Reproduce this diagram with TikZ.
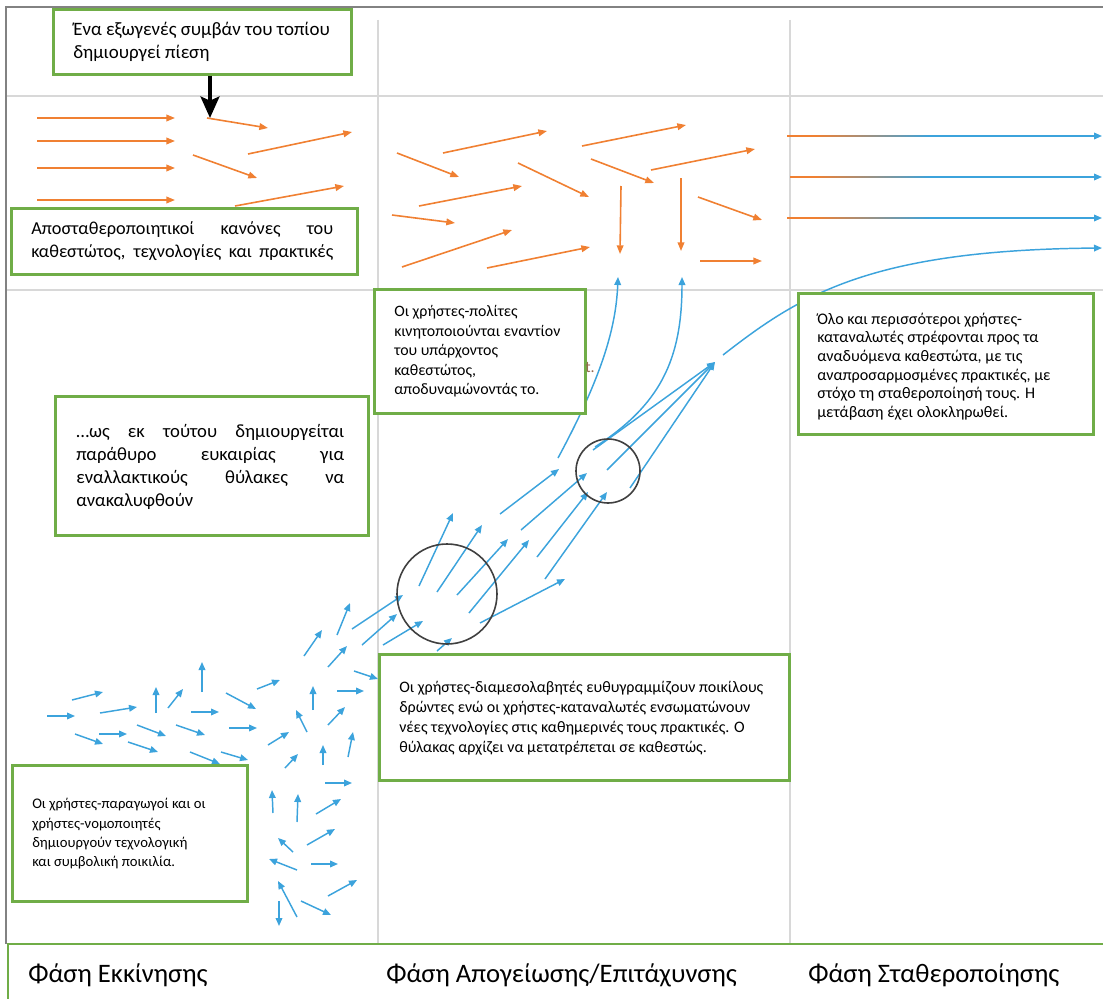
\documentclass[tikz,border=0pt]{standalone}
\usepackage{fontspec}
\setmainfont{Carlito}
\usetikzlibrary{arrows.meta}
\definecolor{gr}{RGB}{112,173,71}
\definecolor{orc}{RGB}{240,128,50}
\definecolor{blc}{RGB}{60,163,220}
\definecolor{gridc}{RGB}{216,216,216}
\definecolor{framec}{RGB}{130,130,130}
\definecolor{circc}{RGB}{64,64,64}
\definecolor{tcol}{RGB}{150,105,80}
\newcommand\jline[2]{\makebox[#1][s]{#2}}
\begin{document}
\begin{tikzpicture}[x=0.75pt,y=-0.75pt,
 oarr/.style={draw=orc, line width=1.2pt, -{Triangle[length=6.5pt,width=5pt]}},
 barr/.style={draw=blc, line width=1.1pt, -{Triangle[length=6pt,width=5pt]}},
 gbox/.style={draw=gr, line width=2pt, fill=white, anchor=north west, inner sep=0pt},
 txt/.style={anchor=west, align=left, inner sep=0pt, text=black},
 gridline/.style={draw=gridc, line width=1.2pt},
 lbl/.style={anchor=west, inner sep=0pt, font=\fontsize{20}{24}\selectfont}]
\useasboundingbox (0,0) rectangle (1103,999);
% grid
\draw[gridline] (6,96) -- (1103,96);
\draw[gridline] (6,290) -- (1103,290);
\draw[gridline] (378,20) -- (378,944);
\draw[gridline] (790,20) -- (790,944);
% frame
\draw[framec, line width=2pt] (1103,7) -- (6,7) -- (6,944);
% bottom band
\draw[gr, line width=2.2pt] (1103,944) -- (8,944) -- (8,999);
% orange arrows
\foreach \a/\b/\c/\d in {37/118/175/118, 37/141/175/141, 37/168/175/168, 37/200/175/200,
  207/118/268/128, 193/155/257/178, 248/154/352/132, 235/206/344/186,
  397/153/459/177, 443/153/547/131, 419/206/522/186, 392/215/455/223, 402/267/512/230,
  487/268/590/247, 518/163/589/197, 582/146/686/125, 591/159/654/183, 651/170/755/149,
  621/186/620/254, 681/178/681/251, 698/197/762/220, 700/261/762/261}
  \draw[oarr] (\a,\b) -- (\c,\d);
% gradient arrows
\foreach \y/\s in {136/787, 177/790, 218/787}{
  \fill[orc] (\s,\y-0.8) rectangle (815,\y+0.8);
  \shade[left color=orc, right color=blc] (815,\y-0.8) rectangle (930,\y+0.8);
  \draw[barr] (930,\y) -- (1102,\y);
}
% blue arrows
\foreach \a/\b/\c/\d in {47/716/75/716, 72/700/103/692, 75/734/103/744, 100/713/137/707,
  99/734/127/734, 128/742/158/752, 137/725/166/736, 156/713/156/687, 168/708/183/689,
  202/692/202/662, 191/712/219/712, 176/725/205/735, 190/752/220/764, 221/752/248/760,
  226/693/256/709, 229/728/257/728, 257/689/280/680, 268/745/289/732, 285/768/298/754,
  304/656/322/630, 337/635/350/603, 328/667/347/646, 313/710/313/686, 307/732/296/710,
  337/691/364/691, 328/725/345/707, 323/765/323/745, 348/757/353/732, 325/783/352/783,
  316/814/341/799, 273/813/272/790, 297/822/298/794, 293/852/278/838, 307/845/335/829,
  297/870/269/859, 311/864/338/864, 297/917/278/881, 279/901/279/926, 301/901/331/915,
  328/896/357/880, 352/629/403/595, 362/645/397/614, 383/645/423/621, 437/651/452/638,
  354/671/378/679, 419/586/453/513, 437/592/482/525, 457/595/508/539, 469/613/529/540,
  480/623/565/579, 500/514/559/469, 521/530/587/473, 537/557/588/492, 545/579/607/492,
  593/450/715/362, 607/470/715/362, 630/488/715/362}
  \draw[barr] (\a,\b) -- (\c,\d);
\draw[barr] (558,458) .. controls (600,380) and (616,330) .. (618,277);
\draw[barr] (595,447) .. controls (660,405) and (682,360) .. (682,277);
\draw[barr] (723,355) .. controls (800,295) and (870,250) .. (1102,248);
% circles
\draw[circc, line width=1.2pt] (447,594) circle[radius=50];
\draw[circc, line width=1.2pt] (608,471) circle[radius=32];
% boxes
\node[gbox, minimum width=223.5pt, minimum height=48.75pt] (b1) at (52,8) {};
\node[txt, font=\fontsize{14.2}{17.25}\selectfont] (t1) at (73,42) {Ένα εξωγενές συμβάν του τοπίου\\δημιουργεί πίεση};
\coordinate (pt) at (210,118);
\draw[black, line width=3.2pt, -{Stealth[length=16pt,width=14pt,inset=3pt]}] (b1.south -| pt) -- (pt);
\node[gbox, minimum width=259.5pt, minimum height=49.5pt] (b2) at (10,207) {};
\node[txt, font=\fontsize{13.7}{17.25}\selectfont] (t2) at (31,241.5) {\jline{226.5pt}{Αποσταθεροποιητικοί κανόνες του}\\\jline{226.5pt}{καθεστώτος, τεχνολογίες και πρακτικές}};
\node[gbox, minimum width=158.25pt, minimum height=93pt] (b3) at (373,288) {};
\node[txt, font=\fontsize{11.9}{14.6}\selectfont] (t3) at (394,351.5) {Οι χρήστες-πολίτες\\κινητοποιούνται εναντίον\\του υπάρχοντος\\καθεστώτος,\\αποδυναμώνοντάς το.};
\node[anchor=west, inner sep=0pt, text=tcol, font=\fontsize{12}{14}\selectfont] (tt) at (585,368) {t.};
\node[gbox, minimum width=221.25pt, minimum height=105.75pt] (b4) at (797,292) {};
\node[txt, font=\fontsize{12.1}{14}\selectfont] (t4) at (817,366.5) {Όλο και περισσότεροι χρήστες-\\καταναλωτές στρέφονται προς τα\\αναδυόμενα καθεστώτα, με τις\\αναπροσαρμοσμένες πρακτικές, με\\στόχο τη σταθεροποίησή τους. Η\\μετάβαση έχει ολοκληρωθεί.};
\node[gbox, minimum width=234.75pt, minimum height=104.25pt] (b5) at (54,395) {};
\node[txt, font=\fontsize{14}{17.25}\selectfont] (t5) at (76,467) {\jline{201pt}{…ως εκ τούτου δημιουργείται}\\\jline{201pt}{παράθυρο ευκαιρίας για}\\\jline{201pt}{εναλλακτικούς θύλακες να}\\ανακαλυφθούν};
\node[gbox, minimum width=307.5pt, minimum height=94.5pt] (b6) at (378,653) {};
\node[txt, font=\fontsize{12}{15}\selectfont] (t6) at (399,718) {Οι χρήστες-διαμεσολαβητές ευθυγραμμίζουν ποικίλους\\δρώντες ενώ οι χρήστες-καταναλωτές ενσωματώνουν\\νέες τεχνολογίες στις καθημερινές τους πρακτικές. Ο\\θύλακας αρχίζει να μετατρέπεται σε καθεστώς.};
\node[gbox, minimum width=176.25pt, minimum height=102pt] (b7) at (11,764) {};
\node[txt, font=\fontsize{11}{14.5}\selectfont] (t7) at (32,834) {Οι χρήστες-παραγωγοί και οι\\χρήστες-νομοποιητές\\δημιουργούν τεχνολογική\\και συμβολική ποικιλία.};
% phase labels
\node[lbl] (p1) at (28,975) {Φάση Εκκίνησης};
\node[lbl] (p2) at (386,975) {Φάση Απογείωσης/Επιτάχυνσης};
\node[lbl] (p3) at (808,975) {Φάση Σταθεροποίησης};
\end{tikzpicture}
\end{document}
